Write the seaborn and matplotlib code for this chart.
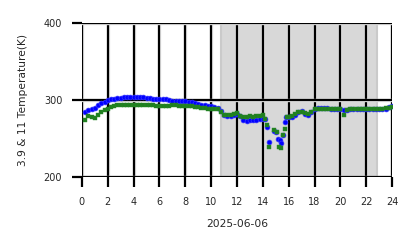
import numpy as np
import pandas as pd
import matplotlib
matplotlib.use("Agg")
import matplotlib.pyplot as plt
import matplotlib.patheffects as pe
import seaborn as sns

# ---- data ----
hours_day1 = [0.25, 0.5, 0.75, 1.0, 1.25, 1.5, 1.75, 2.0, 2.25, 2.5, 2.75, 3.0, 3.25, 3.5, 3.75,
              4.0, 4.25, 4.5, 4.75, 5.0, 5.25, 5.5, 5.75, 6.0, 6.25, 6.5, 6.75, 7.0, 7.25, 7.5,
              7.75, 8.0, 8.25, 8.5, 8.75, 9.0, 9.25, 9.5, 9.75, 10.0, 10.25, 10.5, 10.75, 11.0,
              11.25, 11.5, 11.75, 12.0, 12.25, 12.5, 12.75, 13.0, 13.25, 13.5, 13.75, 14.0]
bt39_day1 = [285, 287, 289, 290, 293, 296, 298, 300, 301, 302, 303, 303, 304, 304, 304,
             304, 304, 304, 304, 303, 303, 302, 302, 302, 302, 301, 300, 299, 299, 299,
             299, 299, 298, 297, 296, 295, 294, 293, 292, 292, 291, 290, 286, 281,
             279, 279, 281, 282, 279, 274, 273, 274, 274, 274, 275, 276]
bt11_day1 = [274, 279, 278, 277, 281, 284, 287, 289, 291, 292, 293, 293, 294, 294, 294,
             294, 294, 294, 294, 294, 293, 293, 292, 292, 292, 292, 292, 293, 293, 292,
             292, 292, 292, 292, 291, 291, 290, 290, 289, 289, 289, 288, 285, 281,
             280, 281, 282, 283, 279, 278, 278, 279, 278, 279, 279, 280]

hours_dip39 = [14.2, 14.3, 14.5, 14.9, 15.0, 15.2, 15.3, 15.4, 15.55, 15.7, 15.8]
bt39_dip = [276, 265, 246, 260, 259, 250, 248, 244, 254, 272, 278]
hours_dip11 = [14.15, 14.3, 14.5, 14.9, 15.1, 15.25, 15.4, 15.55, 15.75, 15.9]
bt11_dip = [276, 268, 239, 261, 258, 239, 238, 254, 263, 278]

hours_late = [16.0, 16.25, 16.5, 16.75, 17.0, 17.25, 17.5, 17.75, 18.0, 18.25, 18.5, 18.75,
              19.0, 19.25, 19.5, 19.75, 20.0, 20.25, 20.5, 20.75, 21.0, 21.25, 21.5, 21.75,
              22.0, 22.25, 22.5, 22.75, 23.0, 23.25, 23.5, 23.75, 24.0]
bt39_late = [278, 278, 281, 284, 286, 282, 281, 285, 288, 290, 290, 290,
             290, 289, 289, 289, 288, 287, 287, 288, 288, 288, 288, 288,
             288, 288, 288, 288, 288, 289, 289, 291, 292]
bt11_late = [278, 279, 282, 285, 285, 283, 282, 285, 288, 289, 289, 289,
             289, 289, 288, 288, 288, 281, 287, 288, 289, 289, 289, 289,
             289, 289, 289, 289, 289, 289, 290, 290, 291]

night_start, night_end = 10.75, 22.8
x_ticks = list(range(0, 25, 2))
y_ticks = [200, 300, 400]
date_label = "2025-06-06"
y_label = "3.9 & 11 Temperature(K)"

df39 = pd.DataFrame({"hour": hours_day1 + hours_dip39 + hours_late,
                     "temp": bt39_day1 + bt39_dip + bt39_late})
df11 = pd.DataFrame({"hour": hours_day1 + hours_dip11 + hours_late,
                     "temp": bt11_day1 + bt11_dip + bt11_late})

sns.set_style("white")
plt.rcParams['font.family'] = ['DejaVu Sans']

fig = plt.figure(figsize=(4.18, 2.48), dpi=100)
ax = fig.add_axes([0.196, 0.286, 0.742, 0.621])

ax.axvspan(night_start, night_end, facecolor="#d8d8d8", edgecolor="#cacaca", lw=1.5, zorder=0)

sns.scatterplot(data=df39, x="hour", y="temp", ax=ax, color="blue", marker="o",
                s=12, edgecolor="#3535ff", linewidth=0.5, zorder=3)
sns.scatterplot(data=df11, x="hour", y="temp", ax=ax, color="#1f7f1f", marker="s",
                s=8, edgecolor="#2a8a2a", linewidth=0.3, zorder=4)

ax.set_xlim(0, 24)
ax.set_ylim(200, 400)
ax.set_xticks(x_ticks)
ax.set_yticks(y_ticks)
ax.grid(True, color="black", linewidth=1.6, zorder=2)
for gl in ax.get_xgridlines() + ax.get_ygridlines():
    gl.set_path_effects([pe.Stroke(linewidth=2.4, foreground="#e2e2e2"), pe.Normal()])
ax.set_axisbelow(False)
for s in ax.spines.values():
    s.set_visible(False)
ax.tick_params(axis="both", length=7.2, width=1.6, color="black", labelsize=7,
               direction="out", bottom=True, left=True, pad=7)
ax.set_xlabel(date_label, fontsize=7.7, labelpad=9)
ax.set_ylabel(y_label, fontsize=7.7, labelpad=11)

fig.savefig("out.png", dpi=100)
